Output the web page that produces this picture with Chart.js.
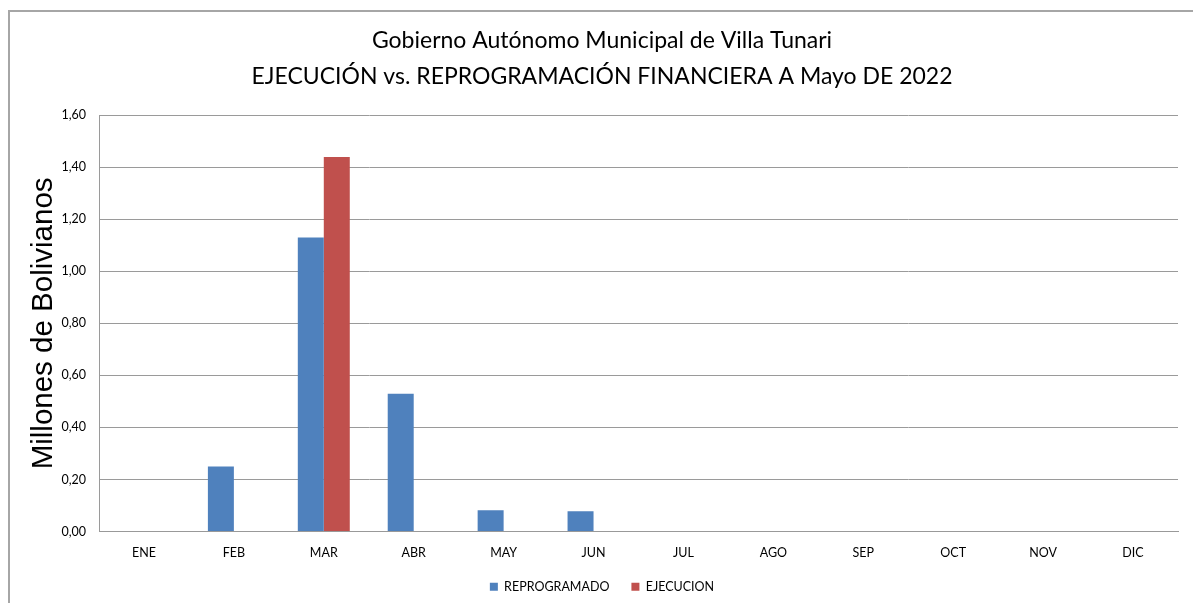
<!DOCTYPE html>
<html>
<head>
<meta charset="utf-8">
<script src="https://cdn.jsdelivr.net/npm/chart.js@4.4.1/dist/chart.umd.min.js"></script>
<style>
  html, body { margin: 0; padding: 0; background: #fff; }
  #wrap { position: relative; width: 1193px; height: 603px; }
</style>
</head>
<body>
<div id="wrap"><canvas id="c" width="1193" height="603"></canvas></div>
<script>
const categories = ['ENE','FEB','MAR','ABR','MAY','JUN','JUL','AGO','SEP','OCT','NOV','DIC'];
const reprogramado = [0, 0.25, 1.13, 0.53, 0.082, 0.078, 0, 0, 0, 0, 0, 0];
const ejecucion = [0, 0, 1.44, 0, 0, 0, 0, 0, 0, 0, 0, 0];
const seriesNames = ['REPROGRAMADO', 'EJECUCION'];
const titleLines = ['Gobierno Autónomo Municipal de Villa Tunari', 'EJECUCIÓN vs. REPROGRAMACIÓN FINANCIERA A Mayo DE 2022'];
const yAxisTitle = 'Millones de Bolivianos';
const yMin = 0, yMax = 1.6, yStep = 0.2;

const FONT = 'Lato, "Open Sans", sans-serif';

const borderPlugin = {
  id: 'outerBorder',
  beforeDraw(chart) {
    const ctx = chart.ctx;
    ctx.save();
    ctx.fillStyle = '#fff';
    ctx.fillRect(0, 0, chart.width, chart.height);
    ctx.strokeStyle = '#a6a6a6';
    ctx.lineWidth = 2;
    ctx.strokeRect(9, 11, chart.width + 20, chart.height + 20);
    ctx.restore();
  }
};

new Chart(document.getElementById('c'), {
  type: 'bar',
  data: {
    labels: categories,
    datasets: [
      { label: seriesNames[0], data: reprogramado, backgroundColor: '#4F81BD', borderWidth: 0 },
      { label: seriesNames[1], data: ejecucion, backgroundColor: '#C0504D', borderWidth: 0 }
    ]
  },
  options: {
    responsive: false,
    animation: false,
    devicePixelRatio: 1,
    layout: { padding: { top: 23, left: 26, right: 15, bottom: 0 } },
    datasets: { bar: { categoryPercentage: 0.578, barPercentage: 1.0 } },
    plugins: {
      title: {
        display: true,
        text: titleLines,
        color: '#000',
        font: { family: FONT, size: 23, weight: 'normal', lineHeight: 1.55 },
        padding: { top: 0, bottom: 21 }
      },
      legend: {
        position: 'bottom',
        labels: {
          boxWidth: 8, boxHeight: 8,
          color: '#000',
          font: { family: FONT, size: 12.5 },
          padding: 22
        }
      },
      tooltip: { enabled: false }
    },
    scales: {
      x: {
        grid: { display: false, drawTicks: false },
        border: { display: true, color: '#999', width: 1 },
        ticks: { color: '#000', font: { family: FONT, size: 12.5 }, padding: 14, maxRotation: 0 },
        afterFit(scale) { scale.height = 27; }
      },
      y: {
        min: yMin, max: yMax,
        grid: { color: '#9a9a9a', drawTicks: false, lineWidth: 1 },
        border: { display: true, color: '#9a9a9a', width: 1 },
        ticks: {
          stepSize: yStep,
          color: '#000',
          padding: 13,
          font: { family: FONT, size: 12.5 },
          callback: (v) => Number(v).toFixed(2).replace('.', ',')
        },
        title: {
          display: true,
          text: yAxisTitle,
          color: '#000',
          font: { family: 'Liberation Sans, Arial, sans-serif', size: 29.5 },
          padding: 0
        },
        afterFit(scale) { scale.width = 73; }
      }
    }
  },
  plugins: [borderPlugin]
});
</script>
</body>
</html>
